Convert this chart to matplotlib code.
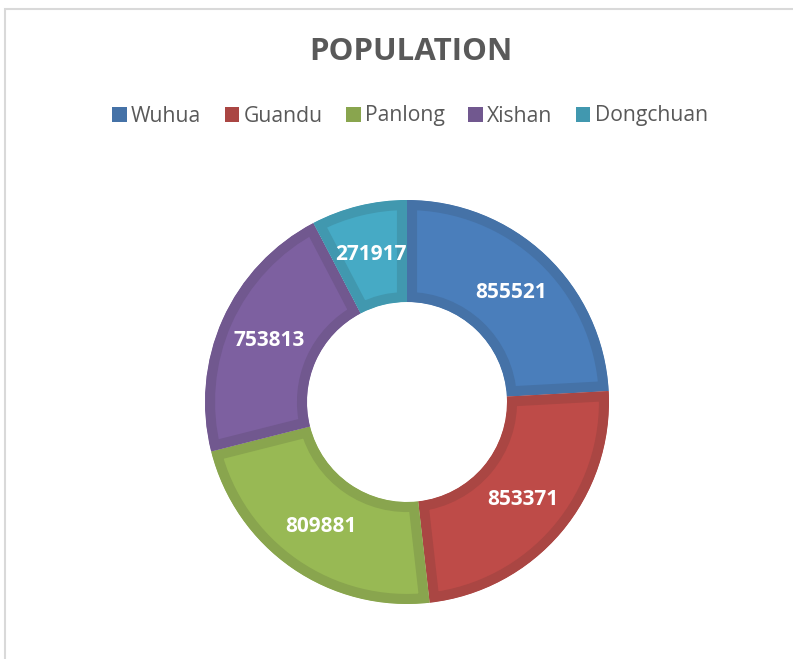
import matplotlib
matplotlib.use("Agg")
import matplotlib.pyplot as plt
from matplotlib.patches import Rectangle, Patch
import numpy as np

categories = ["Wuhua", "Guandu", "Panlong", "Xishan", "Dongchuan"]
values = [855521, 853371, 809881, 753813, 271917]
fill_colors = ["#4a7ebb", "#be4b48", "#98b954", "#7d60a0", "#46aac5"]
edge_colors = ["#4572a7", "#aa4643", "#89a54e", "#71588f", "#4198af"]
title = "POPULATION"

W, H = 793, 659
fig = plt.figure(figsize=(W / 100, H / 100), dpi=100)
fig.patch.set_facecolor("white")

# chart frame
fig.add_artist(Rectangle((5 / W, -0.05), 1.1, (H - 9) / H + 0.05, transform=fig.transFigure,
                         fill=False, edgecolor="#d9d9d9", linewidth=1.5))

cx, cy, R = 407, 402, 202
ax = fig.add_axes([(cx - R) / W, (H - cy - R) / H, 2 * R / W, 2 * R / H])
wedges, texts = ax.pie(values, startangle=90, counterclock=False, radius=1,
                       colors=fill_colors,
                       wedgeprops=dict(width=0.505, linewidth=0))
ax.set_xlim(-1, 1)
ax.set_ylim(-1, 1)
ax.set_aspect("equal")
ax.axis("off")

for w, ec in zip(wedges, edge_colors):
    w.set_edgecolor(ec)
    w.set_linewidth(14.5)
    w.set_joinstyle("miter")
    w.set_clip_on(True)
    w.set_clip_path(w.get_path(), w.get_transform())

total = sum(values)
ang = 90.0
for v in values:
    sweep = 360.0 * v / total
    mid = np.deg2rad(ang - sweep / 2)
    r = 0.75
    ax.text(r * np.cos(mid), r * np.sin(mid), str(v), ha="center", va="center",
            color="white", fontsize=15, fontweight="bold", family="Open Sans")
    ang -= sweep

fig.text(411 / W, 1 - 52 / H, title, ha="center", va="center", fontsize=22.5,
         fontweight="bold", color="#595959", family="Open Sans")

handles = [Patch(facecolor=c, edgecolor="none") for c in edge_colors]
leg = fig.legend(handles, categories, loc="center", bbox_to_anchor=(410 / W, 1 - 116 / H),
                 ncol=5, frameon=False, handlelength=0.7, handleheight=0.7,
                 handletextpad=0.2, columnspacing=1.1, borderpad=0, borderaxespad=0,
                 prop=dict(family="Open Sans", size=15.2))
for t in leg.get_texts():
    t.set_color("#595959")

fig.savefig("out.png", dpi=100)
